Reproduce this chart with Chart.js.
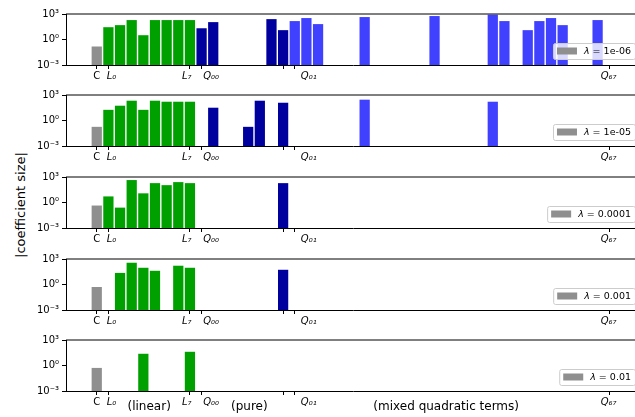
<!DOCTYPE html>
<html>
<head>
<meta charset="utf-8">
<script src="https://cdn.jsdelivr.net/npm/chart.js@4.4.0/dist/chart.umd.min.js"></script>
<style>
  body { margin: 0; background: #fff; overflow: hidden; }
  #wrap { position: relative; width: 635px; height: 417px; overflow: hidden; background: #fff; }
  #wrap canvas { position: absolute; left: 0; }
  #ylabel {
    position: absolute; left: 20px; top: 205px;
    transform: translate(-50%, -50%) rotate(-90deg);
    font: 13px "DejaVu Sans"; white-space: nowrap; color: #000;
  }
</style>
</head>
<body>
<div id="wrap">
  <div id="ylabel">|coefficient size|</div>
</div>
<script>
const _ = null;

// one panel per regularisation strength
const lambdas = ['1e-06', '1e-05', '0.0001', '0.001', '0.01'];

// constant term C
const constCoef = [0.15, 0.18, 0.44, 0.51, 0.52];

// linear terms L0..L7
const linCoef = [
  [28, 49, 193, 3.2, 193, 193, 193, 193],
  [18, 55, 213, 18, 213, 162, 162, 162],
  [5.2, 0.25, 437, 12, 190, 110, 251, 190],
  [_, 23, 363, 93, 41, _, 162, 93],
  [_, _, _, 24, _, _, _, 41]
];

// pure quadratic terms Q00..Q77
const pureCoef = [
  [21, 111, _, _, _, _, 250, 12.6],
  [_, 32, _, _, 0.18, 213, _, 123],
  [_, _, _, _, _, _, _, 190],
  [_, _, _, _, _, _, _, 54],
  [_, _, _, _, _, _, _, _]
];

// mixed quadratic terms Q01..Q67 (28 of them)
const mixedCoef = [
  [147, 333, 65, _, _, _, 437, _, _, _, _, _, 575, _, _, _, _, 830, 147, _, 12.6, 147, 333, 49, _, _, 193, _],
  [_, _, _, _, _, _, 282, _, _, _, _, _, _, _, _, _, _, 162, _, _, _, _, _, _, _, _, _, _],
  new Array(28).fill(_),
  new Array(28).fill(_),
  new Array(28).fill(_)
];

// tick marks, and where each tick's text sits along the axis
const tickPos = [0, 1, 8, 9, 16, 17, 44];
const tickText = ['C', 'L₀', 'L₇', 'Q₀₀', '', 'Q₀₁', 'Q₆₇'];
const tickTextPos = [0, 1.27, 7.72, 9.82, 16, 18.2, 43.95];
const yTicks = [1e-3, 1, 1e3];
const yTickText = ['10⁻³', '10⁰', '10³'];
const groupText = ['(linear)', '(pure)', '(mixed quadratic terms)'];
const groupPos = [4.5, 13.1, 30];

const colors = { c: '#8f8f8f', lin: '#00a000', pure: '#00009f', mixed: '#4040ff' };

const panelTops = [14, 95, 177, 259, 340];
const areaH = 51, padTop = 10, axisH = 26;

function series(start, values) {
  return values.map((v, i) => ({ x: start + i, y: v }));
}

// frame top line, x tick texts, legend box and (last panel) group captions
const panelDecor = {
  id: 'panelDecor',
  afterDraw(chart, args, opts) {
    const { ctx, chartArea: a } = chart;
    const xs = chart.scales.x;
    ctx.save();
    ctx.strokeStyle = '#000';
    ctx.lineWidth = 1;
    ctx.beginPath();
    ctx.moveTo(a.left, a.top);
    ctx.lineTo(a.right, a.top);
    ctx.stroke();

    ctx.fillStyle = '#000';
    ctx.textAlign = 'center';
    ctx.textBaseline = 'middle';
    tickText.forEach((t, i) => {
      ctx.font = (i === 0 ? '' : 'italic ') + '10px "DejaVu Sans"';
      ctx.fillText(t, xs.getPixelForValue(tickTextPos[i]), a.bottom + 11);
    });

    // legend, lower right
    const lamFont = 'italic 9.5px "DejaVu Sans"';
    const restFont = '9.5px "DejaVu Sans"';
    const rest = ' = ' + opts.lambda;
    ctx.textAlign = 'left';
    ctx.font = lamFont;
    const wLam = ctx.measureText('λ').width;
    ctx.font = restFont;
    const wRest = ctx.measureText(rest).width;
    const boxW = 4 + 20 + 7 + wLam + wRest + 4;
    const boxH = 16;
    const bx = a.right - 5 - boxW;
    const by = a.bottom - 6 - boxH;
    ctx.beginPath();
    ctx.roundRect(bx + 0.5, by + 0.5, boxW, boxH, 2);
    ctx.fillStyle = 'rgba(255,255,255,0.8)';
    ctx.fill();
    ctx.strokeStyle = '#cccccc';
    ctx.stroke();
    ctx.fillStyle = colors.c;
    ctx.fillRect(bx + 4, by + boxH / 2 - 3.5, 20, 7);
    ctx.fillStyle = '#000';
    ctx.font = lamFont;
    ctx.fillText('λ', bx + 31, by + boxH / 2 + 0.5);
    ctx.font = restFont;
    ctx.fillText(rest, bx + 31 + wLam, by + boxH / 2 + 0.5);

    if (opts.groups) {
      ctx.font = '12px "DejaVu Sans"';
      ctx.textAlign = 'center';
      groupText.forEach((t, i) => {
        ctx.fillText(t, xs.getPixelForValue(groupPos[i]), a.bottom + 16);
      });
    }
    ctx.restore();
  }
};

function makePanel(p) {
  const last = p === lambdas.length - 1;
  const canvas = document.createElement('canvas');
  const h = padTop + areaH + axisH + (last ? 16 : 0);
  canvas.width = 650;
  canvas.height = h;
  canvas.style.top = (panelTops[p] - padTop) + 'px';
  canvas.style.width = '650px';
  canvas.style.height = h + 'px';
  document.getElementById('wrap').appendChild(canvas);

  new Chart(canvas.getContext('2d'), {
    type: 'bar',
    data: {
      datasets: [
        { data: series(0, [constCoef[p]]), backgroundColor: colors.c },
        { data: series(1, linCoef[p]), backgroundColor: colors.lin },
        { data: series(9, pureCoef[p]), backgroundColor: colors.pure },
        { data: series(17, mixedCoef[p]), backgroundColor: colors.mixed }
      ]
    },
    options: {
      responsive: false,
      animation: false,
      events: [],
      grouped: false,
      barPercentage: 0.88,
      categoryPercentage: 1,
      layout: { padding: { top: padTop, right: 10, left: 0, bottom: last ? 16 : 0 } },
      plugins: {
        legend: { display: false },
        tooltip: { enabled: false },
        panelDecor: { lambda: lambdas[p], groups: last }
      },
      scales: {
        x: {
          type: 'linear',
          min: -2.64,
          max: 46.64,
          offset: false,
          afterBuildTicks: s => { s.ticks = tickPos.map(v => ({ value: v })); },
          afterFit: s => { s.height = axisH; },
          grid: { offset: false, drawOnChartArea: false, drawTicks: true, tickLength: 4, color: '#000' },
          border: { display: true, color: '#000', width: 1 },
          ticks: { autoSkip: false, maxRotation: 0, callback: () => '' }
        },
        y: {
          type: 'logarithmic',
          min: 1e-3,
          max: 1e3,
          afterBuildTicks: s => { s.ticks = yTicks.map(v => ({ value: v, major: true })); },
          afterFit: s => { s.width = 66; },
          grid: { drawOnChartArea: false, drawTicks: true, tickLength: 4, color: '#000' },
          border: { display: true, color: '#000', width: 1 },
          ticks: {
            padding: 3,
            color: '#000',
            font: { family: 'DejaVu Sans', size: 10 },
            callback: (v, i) => yTickText[i]
          }
        }
      }
    },
    plugins: [panelDecor]
  });
}

lambdas.forEach((l, p) => makePanel(p));
</script>
</body>
</html>
